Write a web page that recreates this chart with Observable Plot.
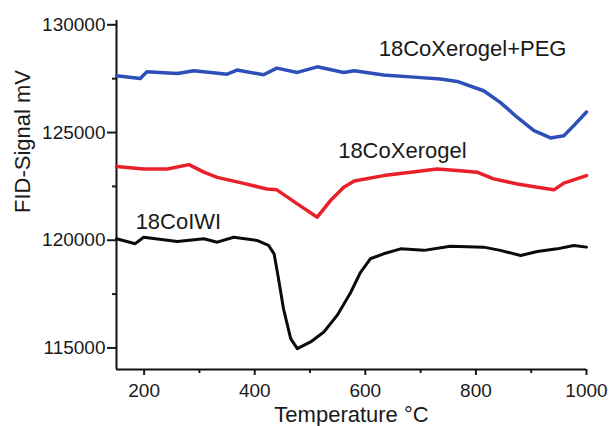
<!DOCTYPE html>
<html><head><meta charset="utf-8">
<script src="https://cdn.jsdelivr.net/npm/d3@7"></script>
<script src="https://cdn.jsdelivr.net/npm/@observablehq/plot@0.6"></script>
<style>body{margin:0;background:#fff}</style>
</head><body><div id="chart"></div>
<script>
// 18CoXerogel+PEG (blue)
const tBlue = [150,193,205,260,290,350,368,416,440,477,513,561,580,633,694,736,766,814,844,875,905,935,959,977,1000];
const vBlue = [127640,127510,127820,127740,127870,127710,127900,127680,127990,127790,128050,127790,127870,127670,127560,127480,127370,126940,126400,125700,125090,124750,124850,125320,125950];
// 18CoXerogel (red)
const tRed = [150,199,242,281,308,332,380,422,440,477,513,537,561,580,633,682,730,772,802,832,875,911,941,959,1000];
const vRed = [123420,123310,123310,123510,123160,122920,122640,122380,122340,121690,121070,121840,122460,122750,123000,123160,123310,123230,123160,122850,122610,122460,122340,122650,123000];
// 18CoIWI (black)
const tBlack = [150,184,199,260,308,332,362,404,425,435,443,452,465,477,501,525,549,573,591,609,633,664,706,754,814,844,881,911,947,977,1000];
const vBlack = [120070,119840,120140,119940,120070,119910,120140,119990,119760,119370,118210,116820,115430,114970,115280,115740,116510,117550,118500,119140,119370,119600,119530,119720,119680,119530,119290,119480,119600,119760,119680];

const xMajor = [200,400,600,800,1000];
const xMinor = [300,500,700,900];
const yMajor = [115000,120000,125000,130000];
const yMinor = [117500,122500,127500];

const labelText = ["18CoXerogel+PEG","18CoXerogel","18CoIWI"];
const labelT = [794,667,262];
const labelV = [128888,124137,120846];

const toRows = (ts, vs) => ts.map((t, i) => ({t, v: vs[i]}));
const labels = labelText.map((s, i) => ({s, t: labelT[i], v: labelV[i]}));

const font = "'Liberation Sans', Arial, Helvetica, sans-serif";
const chart = Plot.plot({
  width: 611, height: 426,
  marginLeft: 116, marginRight: 25, marginTop: 20, marginBottom: 57,
  style: {fontFamily: font, background: "#fff", color: "#1a1a1a"},
  x: {domain: [150, 1000], label: null},
  y: {domain: [114000, 130200], label: null},
  marks: [
    Plot.axisX({ticks: xMajor, tickSize: 6, tickPadding: 8, fontSize: 19, tickFormat: d3.format("d"), strokeWidth: 2, label: null}),
    Plot.axisX({ticks: xMinor, tickSize: 4, tickFormat: () => "", strokeWidth: 2, label: null}),
    Plot.axisY({ticks: yMajor, tickSize: 9, tickPadding: 2, fontSize: 19, tickFormat: d3.format("d"), strokeWidth: 2, label: null}),
    Plot.axisY({ticks: yMinor, tickSize: 4, tickFormat: () => "", strokeWidth: 2, label: null}),
    Plot.ruleX([150], {strokeWidth: 2, stroke: "#111"}),
    Plot.ruleY([114000], {strokeWidth: 2, stroke: "#111"}),
    Plot.line(toRows(tBlue, vBlue), {x: "t", y: "v", stroke: "#2d4fb8", strokeWidth: 3.5}),
    Plot.line(toRows(tRed, vRed), {x: "t", y: "v", stroke: "#e8202a", strokeWidth: 3.5}),
    Plot.line(toRows(tBlack, vBlack), {x: "t", y: "v", stroke: "#0a0a0a", strokeWidth: 3}),
    Plot.text(labels, {x: "t", y: "v", text: "s", fontSize: 22, fill: "#1a1a1a"}),
    Plot.text(["Temperature °C"], {frameAnchor: "bottom", lineAnchor: "top", dy: 37, fontSize: 22, fill: "#1a1a1a"}),
    Plot.text(["FID-Signal mV"], {frameAnchor: "left", rotate: -90, dx: -94, dy: 18, fontSize: 22, fill: "#1a1a1a"})
  ]
});
document.getElementById("chart").appendChild(chart);
</script>
</body></html>
